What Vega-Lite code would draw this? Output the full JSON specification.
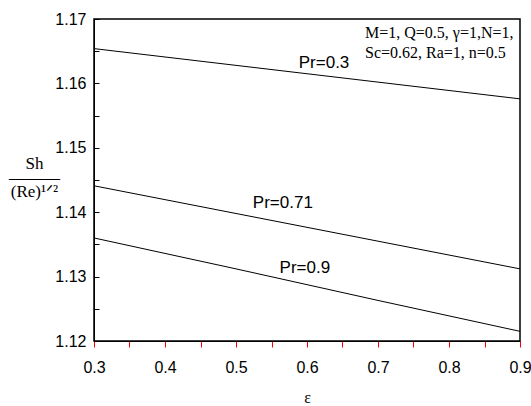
{
  "$schema": "https://vega.github.io/schema/vega-lite/v6.json",
  "autosize": {"type": "none"},
  "padding": {"left": 94, "top": 19, "right": 11, "bottom": 65},
  "width": 426,
  "height": 322,
  "view": {"stroke": "black", "strokeWidth": 1.5},
  "datasets": {
    "lines": [
      {"eps": 0.3, "val": 1.1654, "Pr": "0.3"},
      {"eps": 0.5, "val": 1.1628, "Pr": "0.3"},
      {"eps": 0.7, "val": 1.1602, "Pr": "0.3"},
      {"eps": 0.9, "val": 1.1576, "Pr": "0.3"},
      {"eps": 0.3, "val": 1.1441, "Pr": "0.71"},
      {"eps": 0.5, "val": 1.1398, "Pr": "0.71"},
      {"eps": 0.7, "val": 1.1355, "Pr": "0.71"},
      {"eps": 0.9, "val": 1.1312, "Pr": "0.71"},
      {"eps": 0.3, "val": 1.136, "Pr": "0.9"},
      {"eps": 0.5, "val": 1.1312, "Pr": "0.9"},
      {"eps": 0.7, "val": 1.1263, "Pr": "0.9"},
      {"eps": 0.9, "val": 1.1215, "Pr": "0.9"}
    ],
    "labels": [
      {"eps": 0.624, "val": 1.1631, "text": "Pr=0.3"},
      {"eps": 0.566, "val": 1.1414, "text": "Pr=0.71"},
      {"eps": 0.597, "val": 1.1313, "text": "Pr=0.9"}
    ],
    "notes": [
      {"eps": 0.6817, "val": 1.1678, "text": "M=1, Q=0.5, γ=1,N=1,"},
      {"eps": 0.6817, "val": 1.1647, "text": "Sc=0.62, Ra=1, n=0.5"}
    ]
  },
  "encoding": {
    "x": {
      "field": "eps", "type": "quantitative",
      "scale": {"domain": [0.3, 0.9], "nice": false, "zero": false},
      "axis": {
        "orient": "bottom",
        "grid": false,
        "tickCount": 12,
        "labelExpr": "round(datum.value*100) % 10 == 0 ? format(datum.value, '.1f') : ''",
        "labelFlush": false,
        "labelOverlap": false,
        "labelFont": "Liberation Sans",
        "labelFontSize": 16,
        "labelColor": "black",
        "labelPadding": 12,
        "tickSize": 6,
        "tickColor": "red",
        "domainColor": "black",
        "title": "ε",
        "titleFont": "Liberation Serif",
        "titleFontSize": 16,
        "titleFontWeight": "normal",
        "titleColor": "black",
        "titlePadding": 14
      }
    },
    "y": {
      "field": "val", "type": "quantitative",
      "scale": {"domain": [1.12, 1.17], "nice": false, "zero": false},
      "axis": {
        "orient": "left",
        "grid": false,
        "tickCount": 10,
        "labelExpr": "round(datum.value*1000) % 10 == 0 ? format(datum.value, '.2f') : ''",
        "labelFlush": false,
        "labelOverlap": false,
        "labelFont": "Liberation Sans",
        "labelFontSize": 16,
        "labelColor": "black",
        "labelPadding": 13,
        "tickSize": -5,
        "tickColor": "black",
        "domainColor": "black",
        "title": ["Sh", "―――", "(Re)¹ᐟ²"],
        "titleFont": "Liberation Serif",
        "titleFontSize": 17,
        "titleFontWeight": "normal",
        "titleColor": "black",
        "titleAngle": 0,
        "titleAlign": "center",
        "titleBaseline": "middle",
        "titleLineHeight": 14,
        "titleX": -60,
        "titleY": 144
      }
    }
  },
  "layer": [
    {
      "data": {"name": "lines"},
      "mark": {"type": "line", "color": "black", "strokeWidth": 1},
      "encoding": {
        "detail": {"field": "Pr", "type": "nominal"}
      }
    },
    {
      "data": {"name": "labels"},
      "mark": {"type": "text", "font": "Liberation Sans", "fontSize": 17, "color": "black", "align": "center", "baseline": "middle"},
      "encoding": {
        "text": {"field": "text"}
      }
    },
    {
      "data": {"name": "notes"},
      "mark": {"type": "text", "font": "Liberation Serif", "fontSize": 16, "color": "black", "align": "left", "baseline": "middle"},
      "encoding": {
        "text": {"field": "text"}
      }
    }
  ]
}
